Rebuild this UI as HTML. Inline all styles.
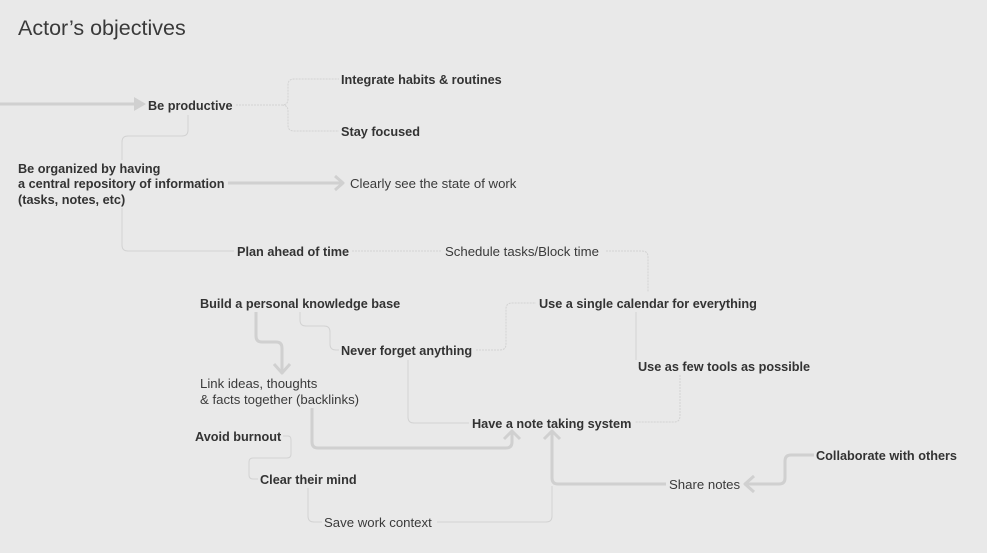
<!DOCTYPE html>
<html><head><meta charset="utf-8"><style>
html,body{margin:0;padding:0;background:#e9e9e9;}
svg{display:block;font-family:"Liberation Sans",Arial,sans-serif;}
.b{font-weight:bold;font-size:12.7px;fill:#333;}
.n{font-size:13.2px;fill:#3a3a3a;}
.t{fill:none;stroke:#d2d2d2;stroke-width:1;}
.d{fill:none;stroke:#d2d2d2;stroke-width:1;stroke-dasharray:2 1;}
.k{fill:none;stroke:#d0d0d0;stroke-width:3;stroke-linejoin:round;}
</style></head><body>
<svg width="987" height="553" viewBox="0 0 987 553">
<rect width="987" height="553" fill="#e9e9e9"/>
<text x="18" y="35" font-size="21.5" fill="#3a3a3a">Actor’s objectives</text>

<path class="k" d="M0 104 H138"/>
<path d="M134 97 L146 104 L134 111 Z" fill="#d0d0d0"/>
<path class="d" d="M236 105 H282 Q288 105 288 99 V85 Q288 79 294 79 H339"/>
<path class="d" d="M282 105 Q288 105 288 111 V125 Q288 131 294 131 H339"/>
<path class="t" d="M188 115 V130 Q188 136 182 136 H128 Q122 136 122 142 V160"/>
<path class="k" d="M228 183 H343"/>
<path class="k" d="M335 176 L343 183 L335 190" />
<path class="t" d="M122 208 V245 Q122 251 128 251 H234"/>
<path class="d" d="M352 251 H442"/>
<path class="d" d="M606 251 H642 Q648 251 648 257 V292"/>
<path class="t" d="M636 360 V312"/>
<path class="d" d="M476 350 H500 Q506 350 506 344 V309 Q506 303 512 303 H536"/>
<path class="t" d="M300 312 V320 Q300 326 306 326 H324 Q330 326 330 332 V344 Q330 350 336 350 H339"/>
<path class="k" d="M256 312 V336 Q256 342 262 342 H276 Q282 342 282 348 V372"/>
<path class="k" d="M274 364 L282 373 L290 364"/>
<path class="t" d="M408 360 V417 Q408 423 414 423 H469"/>
<path class="d" d="M680 375 V416 Q680 422 674 422 H635"/>
<path class="k" d="M312 408 V442 Q312 448 318 448 H506 Q512 448 512 442 V432"/>
<path class="k" d="M504 439 L512 431 L520 439"/>
<path class="k" d="M666 484 H558 Q552 484 552 478 V432"/>
<path class="k" d="M544 439 L552 431 L560 439"/>
<path class="t" d="M437 522 H546 Q552 522 552 516 V486"/>
<path class="t" d="M308 488 V516 Q308 522 314 522 H322"/>
<path class="t" d="M283 436 H288 Q291 436 291 440 V454 Q291 458 287 458 H253 Q249 458 249 462 V475 Q249 479 253 479 H258"/>
<path class="k" d="M814 455 H791 Q785 455 785 461 V478 Q785 484 779 484 H746"/>
<path class="k" d="M754 476 L745 484 L754 492"/>

<text class="b" x="148" y="110">Be productive</text>
<text class="b" x="341" y="84">Integrate habits &amp; routines</text>
<text class="b" x="341" y="136">Stay focused</text>
<text class="b" x="18" y="173">Be organized by having</text>
<text class="b" x="18" y="188">a central repository of information</text>
<text class="b" x="18" y="204">(tasks, notes, etc)</text>
<text class="n" x="350" y="188">Clearly see the state of work</text>
<text class="b" x="237" y="256">Plan ahead of time</text>
<text class="n" x="445" y="256">Schedule tasks/Block time</text>
<text class="b" x="200" y="308">Build a personal knowledge base</text>
<text class="b" x="539" y="308">Use a single calendar for everything</text>
<text class="b" x="341" y="355">Never forget anything</text>
<text class="b" x="638" y="371">Use as few tools as possible</text>
<text class="n" x="200" y="388">Link ideas, thoughts</text>
<text class="n" x="200" y="404">&amp; facts together (backlinks)</text>
<text class="b" x="472" y="428">Have a note taking system</text>
<text class="b" x="195" y="441">Avoid burnout</text>
<text class="b" x="816" y="460">Collaborate with others</text>
<text class="b" x="260" y="484">Clear their mind</text>
<text class="n" x="669" y="489">Share notes</text>
<text class="n" x="324" y="527">Save work context</text>
</svg>
</body></html>
